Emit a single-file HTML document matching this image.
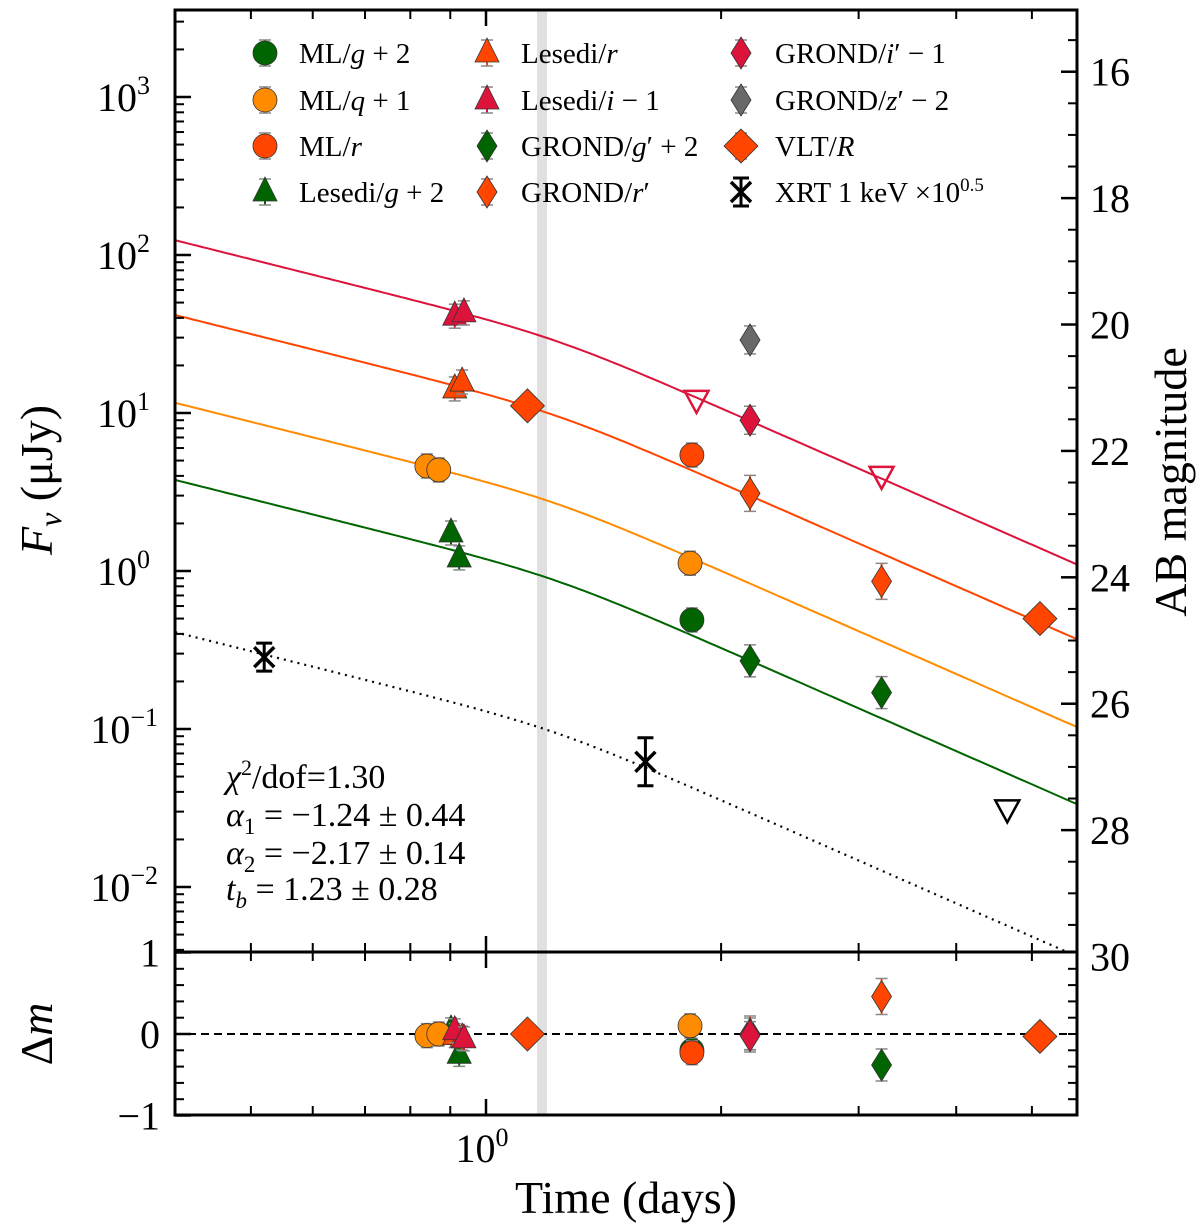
<!DOCTYPE html>
<html><head><meta charset="utf-8"><style>
body{margin:0;background:#fff}
svg{display:block;font-family:"Liberation Serif",serif}
</style></head><body>
<svg id="chart" width="1200" height="1232" viewBox="0 0 1200 1232" xmlns="http://www.w3.org/2000/svg">
<defs><clipPath id="mainclip"><rect x="175" y="10" width="902" height="942"/></clipPath>
<clipPath id="resclip"><rect x="175" y="952" width="902" height="163"/></clipPath></defs>
<rect x="537" y="10" width="10" height="1105" fill="#e0e0e0"/>
<g id="lines" clip-path="url(#mainclip)"></g>
<g id="pts" clip-path="url(#mainclip)"></g>
<line x1="175" y1="1034" x2="1077" y2="1034" stroke="#000" stroke-width="2" stroke-dasharray="8,5"/>
<g id="res" clip-path="url(#resclip)"></g>
<g id="axes"></g>
<g id="legend"></g>
<g font-size="34">
<text x="226" y="788"><tspan font-style="italic">χ</tspan><tspan font-size="22" dy="-13">2</tspan><tspan dy="13">/dof=1.30</tspan></text>
<text x="226" y="826"><tspan font-style="italic">α</tspan><tspan font-size="23" dy="8">1</tspan><tspan dy="-8"> = −1.24 ± 0.44</tspan></text>
<text x="226" y="864"><tspan font-style="italic">α</tspan><tspan font-size="23" dy="8">2</tspan><tspan dy="-8"> = −2.17 ± 0.14</tspan></text>
<text x="226" y="900"><tspan font-style="italic">t</tspan><tspan font-size="23" font-style="italic" dy="8">b</tspan><tspan dy="-8"> = 1.23 ± 0.28</tspan></text>
</g>
<text x="626" y="1213" font-size="46" text-anchor="middle">Time (days)</text>
<text transform="translate(52,480) rotate(-90)" font-size="46" text-anchor="middle"><tspan font-style="italic">F</tspan><tspan font-style="italic" font-size="32" dy="9">ν</tspan><tspan dy="-9"> (μJy)</tspan></text>
<text transform="translate(1186,482) rotate(-90)" font-size="46" text-anchor="middle">AB magnitude</text>
<text transform="translate(52,1034) rotate(-90)" font-size="46" text-anchor="middle"><tspan>Δ</tspan><tspan font-style="italic">m</tspan></text>
</svg>
<script>
// ---- data ----
const lineNames = ['i-1','r','q+1','g+2','xrt'];
const lineColors = ['#dc143c','#ff4500','#ff8c00','#006400','#000'];
const lineFluxAt04 = [124, 41.7, 11.6, 3.77, 0.41];
const alpha1 = -1.24, alpha2 = -2.17, tBreak = 1.23, smooth = 9;

const mlgT=[1.835], mlgF=[0.49], mlgR=[-0.2];
const mlqT=[0.84,0.87,1.825], mlqF=[4.62,4.36,1.12], mlqR=[-0.02,0.0,0.1];
const mlrT=[1.835], mlrF=[5.42], mlrR=[-0.23];
const lesgT=[0.902,0.924], lesgF=[1.74,1.21], lesgR=[0.05,-0.25];
const lesrT=[0.912,0.932], lesrF=[14.2,15.7], lesrR=[-0.02,-0.05];
const lesiT=[0.912,0.937], lesiF=[41,43], lesiR=[0.04,-0.06];
const grgT=[2.178,3.21], grgF=[0.27,0.17], grgR=[0.0,-0.38];
const grrT=[2.178,3.21], grrF=[3.1,0.86], grrR=[0.0,0.46];
const griT=[2.178], griF=[9.0], griR=[-0.02];
const grzT=[2.178], grzF=[29];
const vltT=[1.13,5.12], vltF=[11.1,0.50], vltR=[0.0,-0.03];
const xrtT=[0.52,1.6], xrtF=[0.285,0.062];
const ulT=[1.86,3.21,4.65], ulF=[12.1,4.0,0.031];
const xTickMajor=[1], xTickMinor=[0.4,0.5,0.6,0.7,0.8,0.9,2,3,4,5];
const yTickExp=[-2,-1,0,1,2,3];
const magTicks=[16,18,20,22,24,26,28,30];
const resTicks=[1,0,-1];

// ---- scales ----
const L=175,R=1077,T=10,B=952,RB=1115;
const xs=t=>486+781*Math.log10(t);
const ys=f=>571-158*Math.log10(f);
const yr=d=>1034-81.5*d;
const ym=m=>ys(Math.pow(10,(23.9-m)/2.5));
const NS='http://www.w3.org/2000/svg';
function el(tag,attrs,parent){const e=document.createElementNS(NS,tag);for(const k in attrs)e.setAttribute(k,attrs[k]);parent.appendChild(e);return e;}
const gL=document.getElementById('lines'),gP=document.getElementById('pts'),gR=document.getElementById('res'),gA=document.getElementById('axes'),gLeg=document.getElementById('legend');

function model(t){const x=t/tBreak;return Math.pow(Math.pow(x,-smooth*alpha1)+Math.pow(x,-smooth*alpha2),-1/smooth);}
lineNames.forEach((n,i)=>{
  let d='';for(let k=0;k<=200;k++){const t=0.4*Math.pow(5.8/0.4,k/200);const f=lineFluxAt04[i]*model(t)/model(0.4);d+=(k?'L':'M')+xs(t).toFixed(1)+','+ys(f).toFixed(1);}
  const p=el('path',{d:d,fill:'none',stroke:lineColors[i],'stroke-width':n==='xrt'?2.2:2},gL);
  if(n==='xrt')p.setAttribute('stroke-dasharray','2,5');
  
  
});

function marker(g,shape,x,y,fill,name,err){
  const grp=el('g',{},g);
  
  
  const e=err||12;
  el('line',{x1:x,y1:y-e,x2:x,y2:y+e,stroke:fill,'stroke-width':2},grp);
  el('line',{x1:x-6,y1:y-e,x2:x+6,y2:y-e,stroke:'#888','stroke-width':1.5},grp);
  el('line',{x1:x-6,y1:y+e,x2:x+6,y2:y+e,stroke:'#888','stroke-width':1.5},grp);
  const st={fill:fill,stroke:'#333','stroke-width':0.8};
  if(shape==='circle')el('circle',Object.assign({cx:x,cy:y,r:12},st),grp);
  else if(shape==='tri')el('polygon',Object.assign({points:`${x},${y-15} ${x-12},${y+9} ${x+12},${y+9}`},st),grp);
  else if(shape==='thin')el('polygon',Object.assign({points:`${x},${y-16} ${x+10},${y} ${x},${y+16} ${x-10},${y}`},st),grp);
  else if(shape==='dia')el('polygon',Object.assign({points:`${x},${y-17} ${x+17},${y} ${x},${y+17} ${x-17},${y}`},st),grp);
  else if(shape==='x'){grp.innerHTML='';
    
    el('line',{x1:x,y1:y-e,x2:x,y2:y+e,stroke:'#000','stroke-width':3},grp);
    el('line',{x1:x-8,y1:y-e,x2:x+8,y2:y-e,stroke:'#000','stroke-width':3},grp);
    el('line',{x1:x-8,y1:y+e,x2:x+8,y2:y+e,stroke:'#000','stroke-width':3},grp);
    el('path',{d:`M${x-10},${y-10}L${x+10},${y+10}M${x-10},${y+10}L${x+10},${y-10}`,stroke:'#000','stroke-width':3.5},grp);}
  return grp;
}
const sets=[
 [lesgT,lesgF,lesgR,'tri','#006400','lesedi-g',12],
 [mlgT,mlgF,mlgR,'circle','#006400','ml-g',12],
 [mlqT,mlqF,mlqR,'circle','#ff8c00','ml-q',12],
 [mlrT,mlrF,mlrR,'circle','#ff4500','ml-r',12],
 [lesrT,lesrF,lesrR,'tri','#ff4500','lesedi-r',12],
 [lesiT,lesiF,lesiR,'tri','#dc143c','lesedi-i',12],
 [grgT,grgF,grgR,'thin','#006400','grond-g',16],
 [grrT,grrF,grrR,'thin','#ff4500','grond-r',18],
 [griT,griF,griR,'thin','#dc143c','grond-i',14],
 [grzT,grzF,null,'thin','#696969','grond-z',14],
 [vltT,vltF,vltR,'dia','#ff4500','vlt-R',10],
];
sets.forEach(s=>{
  s[0].forEach((t,i)=>{
    marker(gP,s[3],xs(t),ys(s[1][i]),s[4],s[5]+'-point-'+i,s[6]);
    if(s[2])marker(gR,s[3],xs(t),yr(s[2][i]),s[4],s[5]+'-residual-'+i,s[6]);
  });
});
xrtT.forEach((t,i)=>{marker(gP,'x',xs(t),ys(xrtF[i]),'#000','xrt-point-'+i,i?24:14);});
const ulCol=['#dc143c','#dc143c','#000'];
ulT.forEach((t,i)=>{const x=xs(t),y=ys(ulF[i]);
  const p=el('polygon',{points:`${x-12},${y-9} ${x+12},${y-9} ${x},${y+13}`,fill:'none',stroke:ulCol[i],'stroke-width':2.5},gP);
  
  });

// ---- axes ----
el('rect',{x:L,y:T,width:R-L,height:B-T,fill:'none',stroke:'#000','stroke-width':3},gA);
el('rect',{x:L,y:B,width:R-L,height:RB-B,fill:'none',stroke:'#000','stroke-width':3},gA);
function tick(x1,y1,x2,y2,w){el('line',{x1,y1,x2,y2,stroke:'#000','stroke-width':w||2},gA);}
[[T,1],[B,-1],[B,1],[RB,-1]].forEach(([y,dir])=>{
  xTickMajor.forEach(t=>tick(xs(t),y,xs(t),y+dir*16,2.5));
  xTickMinor.forEach(t=>tick(xs(t),y,xs(t),y+dir*9,2));
});
const xl=el('text',{x:482,y:1162,'font-size':40,'text-anchor':'middle'},gA);
xl.innerHTML='10<tspan font-size="26" dy="-16">0</tspan>';


for(let e=-3;e<=3;e++)for(let k=1;k<10;k++){const y=ys(k*Math.pow(10,e));if(y<T||y>B)continue;tick(L,y,L+(k===1?16:9),y,k===1?2.5:2);}
yTickExp.forEach(e=>{const t=el('text',{x:e<0?158:150,y:ys(Math.pow(10,e))+14,'font-size':40,'text-anchor':'end'},gA);
  t.innerHTML='10<tspan font-size="26" dy="-17">'+(e<0?'−'+(-e):e)+'</tspan>';
  
  });
for(let m=15;m<=30;m+=0.5){const y=ym(m);if(y<T||y>B)continue;const maj=m%2===0;tick(R,y,R-(maj?16:9),y,maj?2.5:2);}
magTicks.forEach(m=>{const t=el('text',{x:1090,y:ym(m)+14,'font-size':40},gA);t.textContent=m;
  
  });
for(let d=-1;d<=1.001;d+=0.2){const y=yr(d);const maj=Math.abs(Math.round(d)-d)<0.01;tick(L,y,L+(maj?16:9),y,maj?2.5:2);tick(R,y,R-9,y,2);}
resTicks.forEach(d=>{const t=el('text',{x:160,y:yr(d)+14,'font-size':40,'text-anchor':'end'},gA);t.textContent=d<0?'−'+(-d):d;
  
  });

// ---- legend ----
const leg=[
 [265,53,'circle','#006400','ML/<tspan font-style="italic">g</tspan> + 2'],
 [265,100,'circle','#ff8c00','ML/<tspan font-style="italic">q</tspan> + 1'],
 [265,146,'circle','#ff4500','ML/<tspan font-style="italic">r</tspan>'],
 [265,192,'tri','#006400','Lesedi/<tspan font-style="italic">g</tspan> + 2'],
 [487,53,'tri','#ff4500','Lesedi/<tspan font-style="italic">r</tspan>'],
 [487,100,'tri','#dc143c','Lesedi/<tspan font-style="italic">i</tspan> − 1'],
 [487,146,'thin','#006400','GROND/<tspan font-style="italic">g</tspan>′ + 2'],
 [487,192,'thin','#ff4500','GROND/<tspan font-style="italic">r</tspan>′'],
 [741,53,'thin','#dc143c','GROND/<tspan font-style="italic">i</tspan>′ − 1'],
 [741,100,'thin','#696969','GROND/<tspan font-style="italic">z</tspan>′ − 2'],
 [741,146,'dia','#ff4500','VLT/<tspan font-style="italic">R</tspan>'],
 [741,192,'x','#000','XRT 1 keV ×10<tspan font-size="19" dy="-11">0.5</tspan>'],
];
leg.forEach((l,i)=>{
  marker(gLeg,l[2],l[0],l[1],l[3],'legend-marker-'+i,l[2]==='x'?14:13);
  const t=el('text',{x:l[0]+34,y:l[1]+10,'font-size':29},gLeg);
  t.innerHTML=l[4];
  
  
});
</script>
</body></html>
